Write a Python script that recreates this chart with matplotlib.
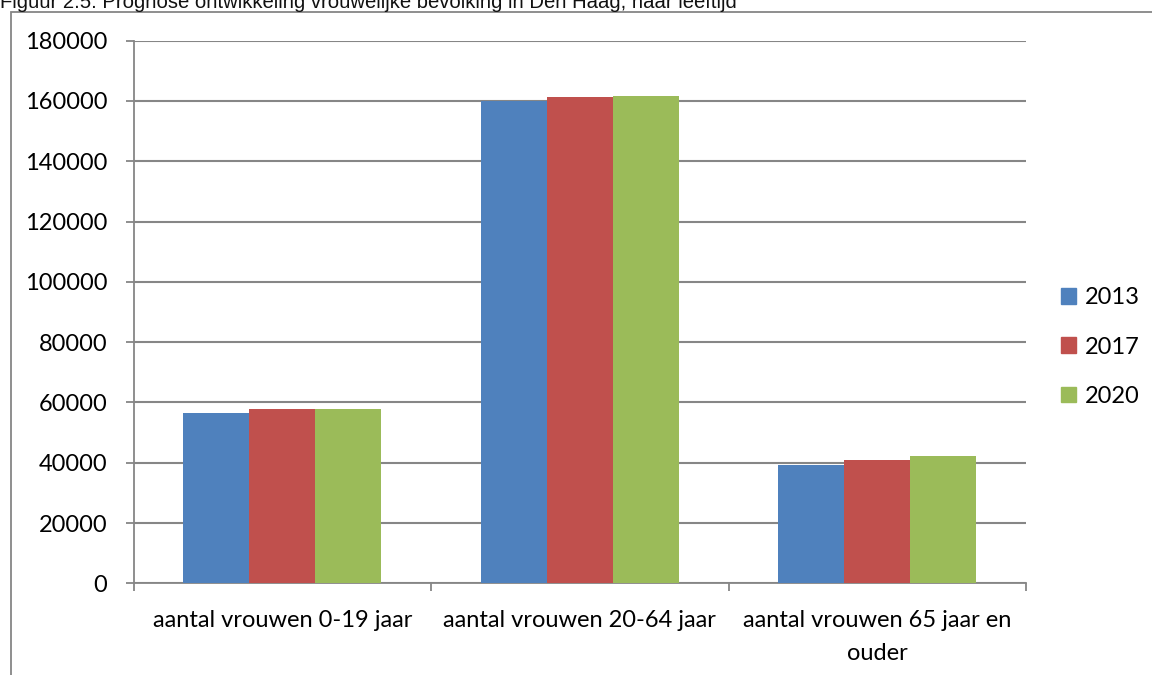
import matplotlib
matplotlib.use("Agg")
import matplotlib.pyplot as plt
from matplotlib.patches import Rectangle, Patch
import numpy as np

categories = ["aantal vrouwen 0-19 jaar", "aantal vrouwen 20-64 jaar", "aantal vrouwen 65 jaar en\nouder"]
years = ["2013", "2017", "2020"]
v2013 = [56600, 160100, 39200]
v2017 = [57700, 161400, 40900]
v2020 = [57900, 161650, 42200]
colors = ["#4F81BD", "#C0504D", "#9BBB59"]

W, H = 1152, 675
fig = plt.figure(figsize=(W / 100, H / 100), dpi=100)
ax = fig.add_axes([133.6 / W, 1 - 583.3 / H, (1026 - 133.6) / W, (583.3 - 40.7) / H])

grey = "#868686"
font = "Lato"
fs = 17

# outer chart frame (cut off at right and bottom)
fig.patches.append(Rectangle((11 / W, -0.2), 1.5, 1.2 - 11.5 / H, transform=fig.transFigure,
                             fill=False, edgecolor=grey, linewidth=1.3, zorder=0))

fig.text(0.0, 1 - 8 / H, "Figuur 2.5: Prognose ontwikkeling vrouwelijke bevolking in Den Haag, naar leeftijd",
         ha="left", va="baseline", fontsize=14.6, family="Liberation Sans", color="#111111")

x = np.arange(len(categories))
bw = 2 / 9
for i, (vals, yr) in enumerate(zip([v2013, v2017, v2020], years)):
    ax.bar(x + (i - 1) * bw, vals, width=bw, color=colors[i], zorder=3, label=yr)

ax.set_xlim(-0.5, 2.5)
ax.set_ylim(0, 180000)
ax.set_yticks(np.arange(0, 180001, 20000))
ax.set_yticklabels([str(v) for v in range(0, 180001, 20000)], family=font, fontsize=fs)
ax.yaxis.grid(True, color=grey, linewidth=1.5, zorder=0)
ax.set_axisbelow(True)

ax.set_xticks([-0.5, 0.5, 1.5, 2.5])
ax.set_xticklabels([])
ax.set_xticks(x, minor=True)
ax.set_xticklabels(categories, minor=True, family=font, fontsize=fs, linespacing=1.75)
ax.tick_params(axis="x", which="minor", length=0, pad=19)
ax.tick_params(axis="x", which="major", length=6, color=grey, width=1.3)
ax.tick_params(axis="y", length=6, color=grey, width=1.3, pad=13)

for s in ["top", "right"]:
    ax.spines[s].set_visible(False)
for s in ["left", "bottom"]:
    ax.spines[s].set_color(grey)
    ax.spines[s].set_linewidth(1.3)

handles = [Patch(color=c) for c in colors]
fig.legend(handles, years, loc="center left", bbox_to_anchor=(1061 / W, 1 - 347 / H),
           frameon=False, prop={"family": font, "size": fs}, handlelength=0.65, handleheight=0.65,
           handletextpad=0.35, labelspacing=1.2, borderpad=0, borderaxespad=0)

fig.savefig("out.png", dpi=100)
